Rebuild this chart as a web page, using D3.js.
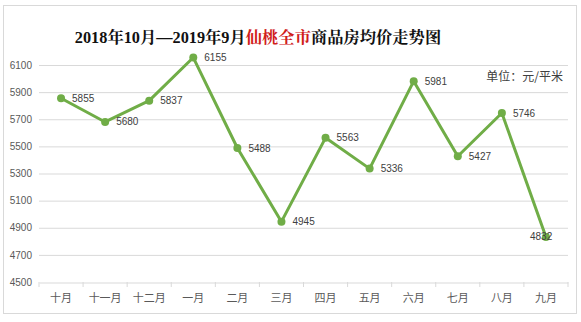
<!DOCTYPE html>
<html><head><meta charset="utf-8">
<script src="https://cdn.jsdelivr.net/npm/d3@7/dist/d3.min.js"></script>
<style>body{margin:0;background:#fff}</style>
</head><body>
<svg id="c" width="581" height="322"></svg>
<script>
const categories = ["十月","十一月","十二月","一月","二月","三月","四月","五月","六月","七月","八月","九月"];
const prices = [5855,5680,5837,6155,5488,4945,5563,5336,5981,5427,5746,4832];
const yTicks = [4500,4700,4900,5100,5300,5500,5700,5900,6100];
const titleParts = [["2018年10月—2019年9月","#111"],["仙桃全市","#d0201a"],["商品房均价走势图","#111"]];
const unitLabel = "单位：元/平米";

const svg = d3.select("#c");
svg.append("rect").attr("x",3.5).attr("y",5.5).attr("width",573).attr("height",308)
  .attr("fill","#fff").attr("stroke","#d9d9d9");

const x = d3.scaleBand().domain(categories).range([39,568]);
const y = d3.scaleLinear().domain([4500,6100]).range([282,65]);

// grid
svg.append("g").selectAll("line").data(yTicks.slice(1)).join("line")
  .attr("x1",39).attr("x2",568).attr("y1",d=>y(d)+0.5).attr("y2",d=>y(d)+0.5)
  .attr("stroke","#d9d9d9");

// y axis labels
const ya = svg.append("g").attr("transform","translate(39,0)")
  .call(d3.axisLeft(y).tickValues(yTicks).tickFormat(d3.format("d")).tickSize(0).tickPadding(7));
ya.select(".domain").remove();
ya.selectAll("text").attr("fill","#595959").style("font-family","'Liberation Sans',Arial,sans-serif").style("font-size","10px");

// x axis
const xa = svg.append("g").attr("transform","translate(0,282.5)")
  .call(d3.axisBottom(x).tickSize(0).tickPadding(12));
xa.select(".domain").attr("stroke","#d9d9d9");
xa.selectAll("text").attr("fill","#595959").style("font-family","'Noto Sans CJK SC',sans-serif").style("font-size","11px");
svg.append("g").selectAll("line").data(categories.concat([null])).join("line")
  .attr("x1",(d,i)=>39+i*x.step()).attr("x2",(d,i)=>39+i*x.step())
  .attr("y1",282).attr("y2",287).attr("stroke","#d9d9d9");

// line
const cx = d=>x(d)+x.bandwidth()/2;
svg.append("path").datum(prices)
  .attr("d",d3.line().x((d,i)=>cx(categories[i])).y(d=>y(d)))
  .attr("fill","none").attr("stroke","#70ad47").attr("stroke-width",3).attr("stroke-linejoin","round");
svg.append("g").selectAll("circle").data(prices).join("circle")
  .attr("cx",(d,i)=>cx(categories[i])).attr("cy",d=>y(d)).attr("r",4).attr("fill","#70ad47");
svg.append("g").selectAll("text").data(prices).join("text")
  .attr("x",(d,i)=>cx(categories[i])+(i===11?-16:11)).attr("y",d=>y(d)).attr("dy","0.35em")
  .attr("fill","#404040").style("font-family","'Liberation Sans',Arial,sans-serif").style("font-size","10px")
  .text(d=>d);

// title
const t = svg.append("text").attr("x",258).attr("y",43).attr("text-anchor","middle")
  .style("font-family","'Liberation Serif','Noto Serif CJK SC','Noto Sans CJK SC',serif").style("font-size","16.3px").style("font-weight","bold");
titleParts.forEach(p=>t.append("tspan").attr("fill",p[1]).text(p[0]));

svg.append("text").attr("x",563).attr("y",81).attr("text-anchor","end").attr("fill","#404040")
  .style("font-family","'Noto Sans CJK SC',sans-serif").style("font-size","12px").text(unitLabel);
</script>
</body></html>
